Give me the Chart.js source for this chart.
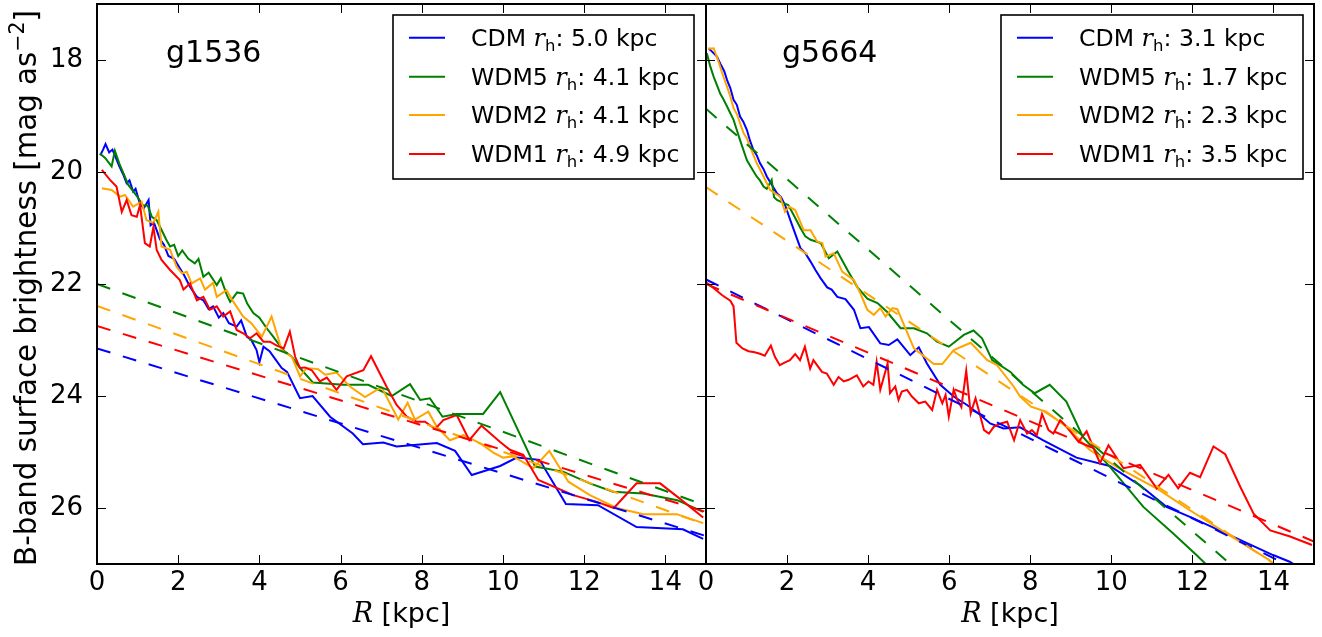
<!DOCTYPE html>
<html><head><meta charset="utf-8">
<script src="https://cdn.jsdelivr.net/npm/chart.js@4/dist/chart.umd.min.js"></script>
<style>
html,body{margin:0;padding:0;background:#fff;overflow:hidden}
#wrap{position:relative;width:1322px;height:637px;background:#fff}
canvas{position:absolute;left:0;top:0}
</style></head>
<body><div id="wrap"><canvas id="c1" width="1322" height="637"></canvas><canvas id="c2" width="1322" height="637"></canvas></div>
<script>
// ---------- data ----------
const models = ['CDM','WDM5','WDM2','WDM1'];
const rhLeft = ['5.0','4.1','4.1','4.9'];
const rhRight = ['3.1','1.7','2.3','3.5'];
const panelNames = ['g1536','g5664'];
const xTicks = [0,2,4,6,8,10,12,14];
const yTicks = [18,20,22,24,26];
const fitR = [0,15];

// g1536
const rL_CDM = [0.08,0.15,0.21,0.3,0.38,0.45,0.55,0.65,0.73,0.8,0.89,0.95,1.05,1.15,1.27,1.32,1.4,1.55,1.65,1.76,1.9,2.04,2.15,2.29,2.46,2.62,2.75,2.86,3.0,3.11,3.25,3.44,3.55,3.69,3.8,3.93,4.0,4.1,4.25,4.4,4.55,4.68,5.0,5.31,5.74,6.3,6.55,7.05,7.38,8.37,8.82,9.23,9.93,10.34,10.9,11.55,12.34,13.29,14.43,14.93];
const sbL_CDM = [19.7,19.6,19.5,19.65,19.6,19.72,19.9,20.05,20.2,20.15,20.35,20.3,20.55,20.65,20.5,20.95,20.9,21.2,21.3,21.5,21.55,21.72,21.85,22.05,22.23,22.29,22.45,22.4,22.6,22.52,22.7,22.76,22.65,22.94,23.0,23.18,23.4,23.12,23.2,23.35,23.5,23.57,24.04,24.0,24.37,24.67,24.86,24.83,24.9,24.84,24.98,25.41,25.25,25.1,25.14,25.93,25.95,26.34,26.38,26.55];
const rL_WDM5 = [0.07,0.2,0.36,0.44,0.55,0.65,0.77,0.9,1.0,1.14,1.25,1.35,1.47,1.6,1.7,1.8,1.9,2.0,2.1,2.25,2.41,2.5,2.62,2.75,2.95,3.05,3.2,3.28,3.45,3.6,3.7,3.85,4.0,4.18,4.35,4.58,4.8,5.0,5.32,6.06,6.68,7.26,7.71,7.96,8.2,8.51,8.86,9.51,9.93,10.79,11.48,12.14,12.71,13.45,14.29,14.93];
const sbL_WDM5 = [19.67,19.75,19.9,19.62,19.85,20.02,20.23,20.35,20.45,20.6,20.6,20.8,20.86,21.05,21.2,21.33,21.3,21.5,21.4,21.55,21.63,21.55,21.87,21.8,22.02,21.9,22.2,22.32,22.15,22.17,22.35,22.52,22.6,22.79,22.95,23.18,23.3,23.5,23.76,23.8,23.8,24.0,23.79,24.07,24.04,24.37,24.32,24.32,23.93,25.26,25.35,25.56,25.71,25.74,25.86,26.07];
const rL_WDM2 = [0.12,0.36,0.57,0.69,0.89,1.1,1.22,1.39,1.51,1.59,1.8,1.96,2.09,2.21,2.33,2.54,2.66,2.86,2.95,3.19,3.36,3.6,3.8,4.06,4.3,4.55,4.8,5.0,5.16,5.45,5.62,5.9,6.23,6.6,7.01,7.42,7.65,7.83,8.16,8.37,8.69,9.02,9.43,9.76,10.0,10.25,10.75,11.14,11.61,12.14,12.8,13.46,14.28,14.93];
const sbL_WDM2 = [20.29,20.32,20.44,20.41,20.62,20.53,20.86,20.91,20.71,21.33,21.39,21.69,21.81,21.78,21.99,21.9,22.1,21.98,22.23,22.11,22.32,22.58,22.7,22.94,22.58,23.18,23.3,23.65,23.5,23.52,23.62,23.58,23.83,24.02,23.84,24.42,24.12,24.42,24.28,24.55,24.79,24.7,24.84,25.01,25.1,25.08,25.29,24.98,25.53,25.77,26.0,26.11,26.11,26.27];
const rL_WDM1 = [0.12,0.32,0.48,0.61,0.73,0.85,0.98,1.06,1.18,1.3,1.39,1.47,1.59,1.8,2.04,2.13,2.29,2.46,2.62,2.78,2.95,3.11,3.28,3.44,3.6,3.77,3.93,4.1,4.26,4.43,4.6,4.75,4.88,5.0,5.12,5.29,5.49,5.66,5.9,6.15,6.56,6.75,7.13,7.38,7.63,7.87,8.08,8.33,8.53,8.86,9.17,9.47,9.93,10.17,10.5,10.87,11.73,12.31,12.73,13.29,13.87,14.4,14.93];
const sbL_WDM1 = [19.96,20.14,20.26,20.71,20.5,20.77,20.8,20.59,21.27,21.33,20.98,21.39,21.57,21.75,21.93,22.1,21.99,22.29,22.23,22.46,22.4,22.58,22.49,22.82,22.88,22.97,22.88,23.03,23.03,23.1,23.15,22.85,23.3,23.5,23.49,23.54,23.74,23.67,23.89,23.65,23.54,23.29,23.83,24.16,24.37,24.46,24.46,24.59,24.43,24.34,24.79,24.53,24.82,24.96,25.05,25.5,25.77,25.89,26.0,25.56,25.56,25.86,26.17];
const fitL_CDM = [23.15,26.5];
const fitL_WDM5 = [22.0,25.96];
const fitL_WDM2 = [22.39,26.3];
const fitL_WDM1 = [22.75,26.07];

// g5664
const rR_CDM = [0.06,0.15,0.27,0.35,0.45,0.52,0.6,0.68,0.76,0.84,0.92,1.01,1.09,1.17,1.25,1.33,1.42,1.5,1.6,1.75,1.85,1.95,2.08,2.2,2.33,2.45,2.58,2.7,2.83,2.99,3.1,3.24,3.44,3.65,3.81,4.02,4.3,4.51,4.72,5.04,5.25,5.45,5.78,6.11,6.44,6.77,7.01,7.34,7.75,8.31,9.14,9.96,10.7,11.36,12.01,13.0,13.99,14.4,14.6];
const sbR_CDM = [17.79,17.85,17.94,18.06,18.2,18.36,18.5,18.71,18.8,19.01,19.1,19.25,19.45,19.61,19.7,19.84,19.95,20.08,20.2,20.38,20.45,20.59,20.86,21.1,21.36,21.45,21.6,21.75,21.9,22.06,22.1,22.23,22.27,22.46,22.79,22.77,23.06,23.09,22.99,23.27,23.13,23.42,23.8,24.01,24.16,24.34,24.49,24.58,24.56,24.79,25.1,25.25,25.59,25.98,26.18,26.51,26.84,26.96,27.05];
const rR_WDM5 = [0.02,0.1,0.19,0.27,0.35,0.43,0.52,0.6,0.68,0.76,0.84,0.92,1.01,1.1,1.25,1.33,1.42,1.5,1.62,1.68,1.75,1.9,2.03,2.15,2.33,2.45,2.58,2.83,3.03,3.24,3.49,3.73,3.98,4.23,4.47,4.8,5.13,5.45,5.7,5.99,6.36,6.6,6.81,7.06,7.51,7.82,8.11,8.48,8.89,9.3,9.96,10.79,11.52,12.1,12.4];
const sbR_WDM5 = [17.88,18.1,18.3,18.45,18.6,18.7,18.83,18.95,19.07,19.25,19.43,19.6,19.79,19.9,20.08,20.15,20.26,20.3,20.14,20.45,20.5,20.55,20.59,20.75,21.0,21.15,21.21,21.27,21.54,21.42,21.75,22.05,22.26,22.34,22.5,22.79,22.79,22.88,23.03,23.12,22.91,22.83,22.97,23.36,23.57,23.8,23.95,23.8,24.1,24.73,25.26,25.98,26.45,26.84,27.05];
const rR_WDM2 = [0.05,0.19,0.27,0.35,0.43,0.52,0.6,0.68,0.77,0.85,0.93,1.01,1.09,1.17,1.25,1.33,1.42,1.5,1.58,1.7,1.83,1.95,2.05,2.2,2.33,2.41,2.58,2.74,2.87,2.95,3.15,3.36,3.65,3.81,3.98,4.14,4.3,4.43,4.6,4.72,5.13,5.62,5.83,6.11,6.53,6.94,7.18,7.59,7.75,8.02,8.39,8.89,9.46,10.12,11.19,11.85,12.83,13.9,14.0];
const sbR_WDM2 = [17.8,17.79,17.95,18.12,18.3,18.48,18.65,18.86,18.98,19.15,19.31,19.4,19.55,19.7,19.84,19.95,20.08,20.2,20.32,20.38,20.44,20.71,20.62,20.68,20.9,21.04,21.04,21.24,21.27,21.51,21.45,21.78,21.93,22.17,22.46,22.55,22.43,22.58,22.43,22.45,23.15,23.43,23.43,23.18,23.05,23.36,23.45,23.83,24.01,24.19,24.28,24.55,24.96,25.26,25.68,26.0,26.45,26.93,27.0];
const rR_WDM1 = [0.02,0.2,0.4,0.6,0.68,0.75,0.9,1.05,1.2,1.35,1.45,1.6,1.7,1.82,1.95,2.07,2.2,2.32,2.44,2.57,2.65,2.86,2.98,3.15,3.27,3.4,3.52,3.72,3.88,4.01,4.13,4.21,4.3,4.48,4.54,4.67,4.75,4.83,4.96,5.08,5.25,5.41,5.58,5.7,5.83,5.91,5.99,6.11,6.2,6.3,6.42,6.53,6.65,6.86,6.98,7.1,7.27,7.43,7.6,7.75,7.92,8.04,8.16,8.29,8.45,8.57,8.74,8.9,9.19,9.39,9.72,9.93,10.3,10.71,11.12,11.41,11.65,11.94,12.19,12.52,12.81,13.18,13.51,13.92,14.41,14.95];
const sbR_WDM1 = [21.98,22.08,22.2,22.3,22.4,23.05,23.15,23.2,23.22,23.25,23.28,23.1,23.3,23.45,23.4,23.36,23.25,23.36,23.12,23.51,23.36,23.57,23.6,23.8,23.66,23.74,23.71,23.63,23.83,23.74,23.8,23.39,23.89,23.42,23.95,23.83,24.07,23.92,23.89,24.01,24.13,24.1,24.25,23.89,24.13,23.98,24.37,23.89,24.07,24.2,23.55,24.31,24.04,24.61,24.67,24.55,24.49,24.46,24.79,24.43,24.67,24.61,24.7,24.32,24.61,24.67,24.43,24.55,24.82,24.63,25.2,24.88,25.29,25.23,25.65,25.41,25.65,25.37,25.45,24.9,25.04,25.62,26.1,26.4,26.51,26.66];
const fitR_CDM = [21.92,27.25];
const fitR_WDM5 = [18.87,28.3];
const fitR_WDM2 = [20.27,27.47];
const fitR_WDM1 = [22.0,26.6];

// ---------- styling ----------
const colors = ['#0000ff','#008000','#ffa500','#ff0000'];
const FONT = '"DejaVu Sans"';

function pts(xs, ys){ return xs.map((x,i)=>({x:x, y:ys[i]})); }

function drawLegend(ctx, box, rh){
  ctx.save();
  ctx.fillStyle = '#fff';
  ctx.fillRect(box.x, box.y, box.w, box.h);
  ctx.strokeStyle = '#000'; ctx.lineWidth = 1.6;
  ctx.strokeRect(box.x, box.y, box.w, box.h);
  const rowY = [22.7, 61.7, 100, 139];
  models.forEach((m,i)=>{
    const y = box.y + rowY[i];
    ctx.strokeStyle = colors[i]; ctx.lineWidth = 2; ctx.setLineDash([]);
    ctx.beginPath(); ctx.moveTo(box.x+16, y); ctx.lineTo(box.x+52, y); ctx.stroke();
    let x = box.x + 78;
    const base = y + 8;
    ctx.fillStyle = '#000'; ctx.textBaseline = 'alphabetic'; ctx.textAlign = 'left';
    ctx.font = '23.6px ' + FONT;
    const t1 = m + ' ';
    ctx.fillText(t1, x, base); x += ctx.measureText(t1).width;
    ctx.font = 'italic 24px "DejaVu Serif"';
    ctx.fillText('r', x, base); x += ctx.measureText('r').width;
    ctx.font = '16.5px ' + FONT;
    ctx.fillText('h', x, base + 5); x += ctx.measureText('h').width;
    ctx.font = '23.6px ' + FONT;
    ctx.fillText(': ' + rh[i] + ' kpc', x, base);
  });
  ctx.restore();
}

function makeDecor(p){
  return {
    id: 'decor',
    afterDraw(chart){
      const ctx = chart.ctx, a = chart.chartArea;
      const xs = chart.scales.x, ys = chart.scales.y;
      ctx.save();
      ctx.strokeStyle = '#000'; ctx.lineWidth = 1; ctx.setLineDash([]);
      // inward ticks
      ctx.beginPath();
      xTicks.forEach(v=>{
        const px = Math.round(xs.getPixelForValue(v)) + 0.5;
        if (px < a.left + 2 || px > a.right - 2) return;
        ctx.moveTo(px, a.bottom); ctx.lineTo(px, a.bottom - 9);
        ctx.moveTo(px, a.top); ctx.lineTo(px, a.top + 9);
      });
      yTicks.forEach(v=>{
        const py = Math.round(ys.getPixelForValue(v)) + 0.5;
        ctx.moveTo(a.left, py); ctx.lineTo(a.left + 9, py);
        ctx.moveTo(a.right, py); ctx.lineTo(a.right - 9, py);
      });
      ctx.stroke();
      // frame
      ctx.lineWidth = 2;
      ctx.strokeRect(a.left, a.top, a.right - a.left, a.bottom - a.top);
      // panel label
      ctx.fillStyle = '#000'; ctx.textAlign = 'left'; ctx.textBaseline = 'alphabetic';
      ctx.font = '30px ' + FONT;
      ctx.fillText(p.name, p.nameX, 62);
      // legend
      drawLegend(ctx, p.box, p.rh);
      // x title
      const cx = (a.left + a.right) / 2;
      ctx.font = 'italic 27px "DejaVu Serif"';
      const wR = ctx.measureText('R').width;
      ctx.font = '27px ' + FONT;
      const wT = ctx.measureText(' [kpc]').width;
      let x0 = cx - (wR + wT) / 2;
      const by = 622;
      ctx.font = 'italic 27px "DejaVu Serif"';
      ctx.fillText('R', x0, by);
      ctx.font = '27px ' + FONT;
      ctx.fillText(' [kpc]', x0 + wR, by);
      // y title
      if (p.yTitle){
        ctx.translate(36, 288);
        ctx.rotate(-Math.PI/2);
        const s1 = 'B-band surface brightness [mag as', s2 = '\u22122', s3 = ']';
        ctx.font = '29.3px ' + FONT; const w1 = ctx.measureText(s1).width, w3 = ctx.measureText(s3).width;
        ctx.font = '20.5px ' + FONT; const w2 = ctx.measureText(s2).width;
        let sx = -(w1 + w2 + w3) / 2;
        ctx.font = '29.3px ' + FONT; ctx.fillText(s1, sx, 0); sx += w1;
        ctx.font = '20.5px ' + FONT; ctx.fillText(s2, sx, -12); sx += w2;
        ctx.font = '29.3px ' + FONT; ctx.fillText(s3, sx, 0);
      }
      ctx.restore();
    }
  };
}

function zeroPad(s){ s.paddingTop = 0; s.paddingBottom = 0; s.paddingLeft = 0; s.paddingRight = 0; }

function makePanel(id, p){
  const ds = [];
  p.series.forEach((s,i)=>{
    ds.push({data: pts(s[0], s[1]), borderColor: colors[i], borderWidth: 2, pointRadius: 0, fill: false, tension: 0, order: 100 - i});
  });
  p.fits.forEach((f,i)=>{
    ds.push({data: pts(fitR, f), borderColor: colors[i], borderWidth: 2, borderDash: [14,13], pointRadius: 0, fill: false, tension: 0, order: 50 - i});
  });
  return new Chart(document.getElementById(id), {
    type: 'line',
    data: { datasets: ds },
    options: {
      responsive: false, animation: false, events: [],
      layout: { padding: { left: p.padL, right: p.padR, top: 4, bottom: 0 } },
      plugins: { legend: { display: false }, tooltip: { enabled: false }, title: { display: false } },
      scales: {
        x: {
          type: 'linear', min: 0, max: 15,
          grid: { display: false, drawTicks: false }, border: { display: false },
          ticks: { color: '#000', font: { family: 'DejaVu Sans', size: 26 }, padding: 4, autoSkip: false, maxRotation: 0 },
          afterBuildTicks: s => { s.ticks = xTicks.map(v => ({ value: v })); },
          afterFit: s => { s.height = 73; zeroPad(s); }
        },
        y: {
          type: 'linear', reverse: true, min: 17, max: 27,
          grid: { display: false, drawTicks: false }, border: { display: false },
          ticks: { display: p.showY, color: '#000', font: { family: 'DejaVu Sans', size: 26 }, padding: 14 },
          afterBuildTicks: s => { s.ticks = yTicks.map(v => ({ value: v })); },
          afterFit: s => { s.width = p.yW; zeroPad(s); }
        }
      }
    },
    plugins: [makeDecor(p)]
  });
}

makePanel('c1', {
  padL: 0, padR: 616, yW: 97, showY: true, yTitle: true,
  name: panelNames[0], nameX: 166, rh: rhLeft,
  box: { x: 393, y: 15, w: 301, h: 164 },
  series: [[rL_CDM, sbL_CDM], [rL_WDM5, sbL_WDM5], [rL_WDM2, sbL_WDM2], [rL_WDM1, sbL_WDM1]],
  fits: [fitL_CDM, fitL_WDM5, fitL_WDM2, fitL_WDM1]
});
makePanel('c2', {
  padL: 706, padR: 8, yW: 0, showY: false, yTitle: false,
  name: panelNames[1], nameX: 782, rh: rhRight,
  box: { x: 1001, y: 15, w: 302, h: 164 },
  series: [[rR_CDM, sbR_CDM], [rR_WDM5, sbR_WDM5], [rR_WDM2, sbR_WDM2], [rR_WDM1, sbR_WDM1]],
  fits: [fitR_CDM, fitR_WDM5, fitR_WDM2, fitR_WDM1]
});
</script>
</body></html>
